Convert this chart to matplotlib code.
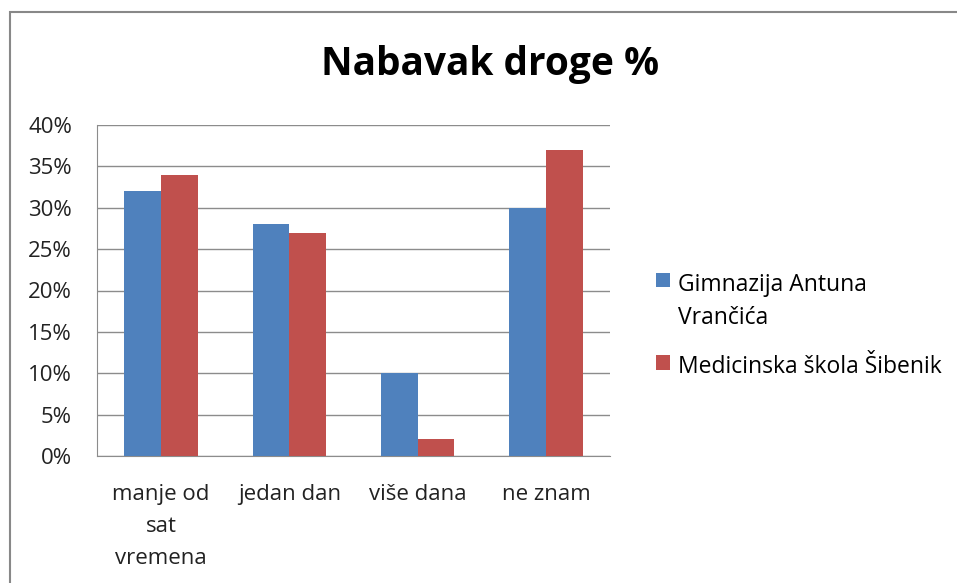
import matplotlib.pyplot as plt
import numpy as np
from matplotlib.patches import Rectangle

categories = ["manje od\nsat\nvremena", "jedan dan", "više dana", "ne znam"]
gimnazija = [32, 28, 10, 30]
medicinska = [34, 27, 2, 37]
series_names = ["Gimnazija Antuna\nVrančića", "Medicinska škola Šibenik"]
yticks = [0, 5, 10, 15, 20, 25, 30, 35, 40]

plt.rcParams['font.family'] = ['Open Sans', 'DejaVu Sans']

fig = plt.figure(figsize=(9.57, 5.83), dpi=100)
ax = fig.add_axes([97 / 957, 1 - 456 / 583, (610 - 97) / 957, (456 - 125) / 583])

x = np.arange(len(categories))
w = 1 / 3.5
b1 = ax.bar(x - w / 2, gimnazija, w, color='#4F81BD', label=series_names[0], zorder=3)
b2 = ax.bar(x + w / 2, medicinska, w, color='#C0504D', label=series_names[1], zorder=3)

ax.set_xlim(-0.5, len(categories) - 0.5)
ax.set_ylim(0, 40)
ax.set_yticks(yticks)
ax.set_yticklabels([f"{v}%" for v in yticks], fontsize=16, color='#222222')
ax.set_xticks(x)
ax.set_xticklabels(categories, fontsize=16, color='#222222', linespacing=1.7, va='top')
ax.tick_params(length=0)
ax.tick_params(axis='y', pad=18)
ax.tick_params(axis='x', pad=20)
ax.grid(axis='y', color='#8c8c8c', linewidth=1, zorder=0)
for s in ['top', 'right']:
    ax.spines[s].set_visible(False)
for s in ['left', 'bottom']:
    ax.spines[s].set_color('#8c8c8c')

fig.text(490 / 957, 1 - 65 / 583, "Nabavak droge %", fontsize=28, fontweight='bold',
         ha='center', va='center')

leg = fig.legend(handles=[b1, b2], loc='center left', bbox_to_anchor=(645 / 957, 1 - 326 / 583),
                 frameon=False, fontsize=16.5, handlelength=0.6, handleheight=0.6,
                 handletextpad=0.35, labelspacing=1.1, borderpad=0)
for t in leg.get_texts():
    t.set_linespacing(1.5)
# put the square next to the first line of a wrapped label
for col in leg._legend_handle_box.get_children():
    for row in col.get_children():
        row.align = 'top'

fig.patches.append(Rectangle((10 / 957, -0.1), 1.2, 1 - 12 / 583 + 0.1, transform=fig.transFigure,
                             fill=False, edgecolor='#888888', linewidth=1.5))

fig.savefig("out.png", dpi=100)
